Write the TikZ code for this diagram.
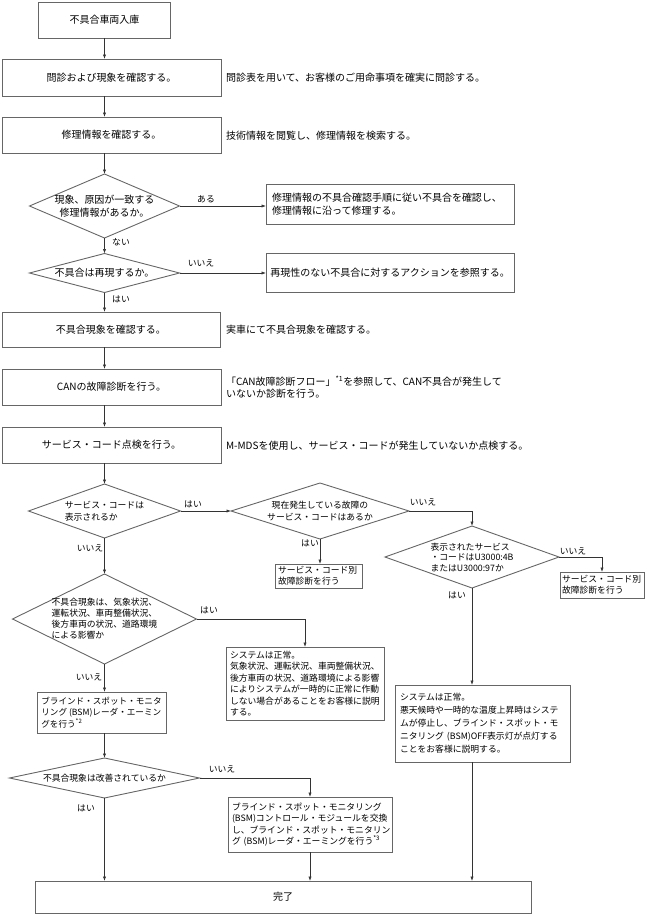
\documentclass[tikz,border=0pt]{standalone}
\usepackage{fontspec}
\setmainfont{Noto Sans CJK JP}
\usetikzlibrary{shapes.geometric,arrows.meta}
\begin{document}
\begin{tikzpicture}[x=1pt,y=-1pt,
  every node/.style={inner sep=0pt,outer sep=0pt},
  fA/.style={font=\fontsize{10}{13}\selectfont},
  fB/.style={font=\fontsize{8.8}{11.5}\selectfont},
  box/.style={draw=black!60,line width=0.9pt,rectangle},
  dia/.style={draw=black!60,line width=0.9pt,diamond},
  conn/.style={draw=black!80,line width=0.6pt},
  arr/.style={conn,-{Latex[length=4.5pt,width=3.2pt]}},
  lbl/.style={fB,anchor=center},
  side/.style={fA,anchor=west,align=left},
]
\useasboundingbox (0,0) rectangle (645,914);

% ---- top section ----
\node[box,fA,minimum width=132pt,minimum height=36pt] (b1) at (104.5,20) {不具合車両入庫};
\node[box,fA,minimum width=219pt,minimum height=37pt] (b2) at (111.5,77.5) {問診および現象を確認する。};
\node[box,fA,minimum width=219pt,minimum height=36pt] (b3) at (111.5,135) {修理情報を確認する。};
\node[side] (s2) at (226,78) {問診表を用いて、お客様のご用命事項を確実に問診する。};
\node[side] (s3) at (226,136) {技術情報を閲覧し、修理情報を検索する。};

\node[dia,minimum width=150pt,minimum height=64pt] (d1) at (104.5,206) {};
\node[fA,align=center] (d1t) at (d1.center) {現象、原因が一致する\\修理情報があるか。};
\node[box,fA,minimum width=248pt,minimum height=40pt,text width=236pt,align=left] (b4) at (390,204) {修理情報の不具合確認手順に従い不具合を確認し、\\修理情報に沿って修理する。};

\node[dia,minimum width=150pt,minimum height=39pt] (d2) at (104.5,273) {};
\node[fA] (d2t) at (d2.center) {不具合は再現するか。};
\node[box,fA,minimum width=248pt,minimum height=39pt] (b5) at (390,272.5) {再現性のない不具合に対するアクションを参照する。};

\node[box,fA,minimum width=218pt,minimum height=35pt] (b6) at (111,329.5) {不具合現象を確認する。};
\node[side] (s6) at (226,330) {実車にて不具合現象を確認する。};
\node[box,fA,minimum width=219pt,minimum height=36pt] (b7) at (111.5,387) {CANの故障診断を行う。};
\node[side,font=\fontsize{10}{12}\selectfont] (s7) at (226,387) {「CAN故障診断フロー」\textsuperscript{*1}を参照して、CAN不具合が発生して\\いないか診断を行う。};
\node[box,fA,minimum width=219pt,minimum height=36pt] (b8) at (111.5,445) {サービス・コード点検を行う。};
\node[side] (s8) at (226,446) {M-MDSを使用し、サービス・コードが発生していないか点検する。};

% ---- lower section ----
\node[dia,minimum width=152pt,minimum height=54pt] (d3) at (104.5,511) {};
\node[fB,align=left] (d3t) at (d3.center) {サービス・コードは\\表示されるか};
\node[dia,minimum width=178pt,minimum height=56pt] (d4) at (320,511) {};
\node[fB,align=center] (d4t) at (d4.center) {現在発生している故障の\\サービス・コードはあるか};
\node[dia,minimum width=174pt,minimum height=62pt] (d5) at (472,557) {};
\node[fB,align=left,font=\fontsize{8.8}{10.5}\selectfont] (d5t) at (d5.center) {表示されたサービス\\・コードはU3000:4B\\またはU3000:97か};
\node[box,fB,minimum width=84pt,minimum height=26pt,text width=80pt,align=left] (rb1) at (602,585) {サービス・コード別\\故障診断を行う};
\node[box,fB,minimum width=87pt,minimum height=24pt,text width=81pt,align=left] (mb1) at (318.5,576) {サービス・コード別\\故障診断を行う};

\node[dia,minimum width=184pt,minimum height=90pt] (d6) at (104.5,619) {};
\node[fB,align=left,font=\fontsize{8.8}{11}\selectfont] (d6t) at (d6.center) {不具合現象は、気象状況、\\運転状況、車両整備状況、\\後方車両の状況、道路環境\\による影響か};
\node[box,fB,minimum width=158pt,minimum height=73pt,text width=150pt,align=left] (mb2) at (305,683.5) {システムは正常。\\気象状況、運転状況、車両整備状況、\\後方車両の状況、道路環境による影響\\によりシステムが一時的に正常に作動\\しない場合があることをお客様に説明\\する。};
\node[box,fB,minimum width=175pt,minimum height=77pt,text width=165pt,align=left,font=\fontsize{8.8}{13}\selectfont] (rb2) at (482.5,723.5) {システムは正常。\\悪天候時や一時的な温度上昇時はシステ\\ムが停止し、ブラインド・スポット・モ\\\mbox{ニタリング (BSM)OFF表示灯が点灯する}\\ことをお客様に説明する。};
\node[box,fB,minimum width=129pt,minimum height=41pt,align=left,font=\fontsize{8.6}{11.5}\selectfont] (bsm) at (101.5,712.5) {\mbox{ブラインド・スポット・モニタ}\\\mbox{リング (BSM)レーダ・エーミン}\\\mbox{グを行う\textsuperscript{*2}}};

\node[dia,minimum width=190pt,minimum height=40pt] (d7) at (104.5,778) {};
\node[fB] (d7t) at (d7.center) {不具合現象は改善されているか};
\node[box,fB,minimum width=164pt,minimum height=55pt,text width=156pt,align=left] (mb3) at (310,824.5) {ブラインド・スポット・モニタリング\\(BSM)コントロール・モジュールを交換\\し、ブラインド・スポット・モニタリン\\\mbox{グ (BSM)レーダ・エーミングを行う\textsuperscript{*3}}};

\node[box,fA,minimum width=496pt,minimum height=32pt] (done) at (283,897) {完了};

% ---- connectors ----
\draw[arr] (b1.south) -- (b1.south |- b2.north);
\draw[arr] (b1.south |- b2.south) -- (b1.south |- b3.north);
\draw[arr] (b1.south |- b3.south) -- (d1.north);
\draw[arr] (d1.east) -- (d1.east -| b4.west);
\draw[arr] (d1.south) -- (d2.north);
\draw[arr] (d2.east) -- (d2.east -| b5.west);
\draw[arr] (d2.south) -- (d2.south |- b6.north);
\draw[arr] (b1.south |- b6.south) -- (b1.south |- b7.north);
\draw[arr] (b1.south |- b7.south) -- (b1.south |- b8.north);
\draw[arr] (b1.south |- b8.south) -- (d3.north);
\draw[arr] (d3.east) -- (d4.west);
\draw[arr] (d4.east) -- (d4.east -| d5.north) -- (d5.north);
\draw[arr] (d5.east) -- (d5.east -| rb1.north) -- (rb1.north);
\draw[arr] (d4.south) -- (d4.south |- mb1.north);
\draw[arr] (d5.south) -- (d5.south |- rb2.north);
\draw[arr] (d3.south) -- (d6.north);
\draw[arr] (d6.east) -- (d6.east -| mb2.north) -- (mb2.north);
\draw[arr] (d6.south) -- (d6.south |- bsm.north);
\draw[arr] (d6.south |- bsm.south) -- (d7.north);
\draw[arr] (d7.east) -- (d7.east -| mb3.north) -- (mb3.north);
\draw[arr] (d7.south) -- (d7.south |- done.north);
\draw[arr] (mb3.south) -- (mb3.south |- done.north);
\draw[arr] (d5.south |- rb2.south) -- (d5.south |- done.north);

% ---- labels ----
\node[lbl] (l1) at (206,199) {ある};
\node[lbl] (l2) at (121,242) {ない};
\node[lbl] (l3) at (201,263) {いいえ};
\node[lbl] (l4) at (121,299) {はい};
\node[lbl] (l5) at (193,504) {はい};
\node[lbl] (l6) at (423,502) {いいえ};
\node[lbl] (l7) at (573,551) {いいえ};
\node[lbl] (l8) at (310,543) {はい};
\node[lbl] (l9) at (457,595) {はい};
\node[lbl] (l10) at (90,548) {いいえ};
\node[lbl] (l11) at (209,610) {はい};
\node[lbl] (l12) at (89,677) {いいえ};
\node[lbl] (l13) at (222,769) {いいえ};
\node[lbl] (l14) at (86,808) {はい};
\end{tikzpicture}
\end{document}
